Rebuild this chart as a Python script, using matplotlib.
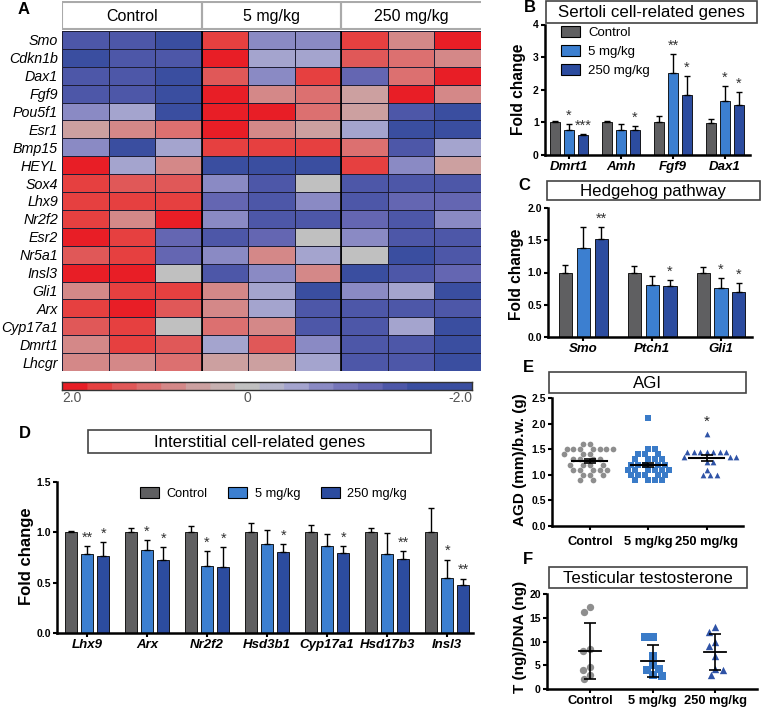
import numpy as np
import matplotlib
matplotlib.use("Agg")
import matplotlib.pyplot as plt
from matplotlib.colors import ListedColormap, BoundaryNorm
from matplotlib.patches import Rectangle, Patch

W, H = 761, 710
plt.rcParams["font.family"] = "Liberation Sans"

# ---------------- data ----------------
doses = ["Control", "5 mg/kg", "250 mg/kg"]

# A: heatmap (log fold change, 3 replicates per group)
heat_genes = ["Smo", "Cdkn1b", "Dax1", "Fgf9", "Pou5f1", "Esr1", "Bmp15", "HEYL", "Sox4",
              "Lhx9", "Nr2f2", "Esr2", "Nr5a1", "Insl3", "Gli1", "Arx", "Cyp17a1", "Dmrt1", "Lhcgr"]
heat_control = [[-1.6, -1.6, -1.8], [-1.9, -1.6, -1.6], [-1.6, -1.6, -1.8], [-1.6, -1.7, -1.8],
                [-0.9, -0.5, -1.8], [0.45, 0.9, 1.1], [-0.9, -1.9, -0.5], [1.9, -0.5, 0.9],
                [1.7, 1.3, 1.4], [1.7, 1.7, 1.7], [1.7, 0.9, 1.9], [1.9, 1.7, -1.3],
                [1.3, 1.7, -1.3], [1.9, 1.9, 0.0], [0.9, 1.7, 1.7], [1.7, 1.9, 1.3],
                [1.4, 1.7, 0.0], [0.9, 1.7, 1.4], [0.9, 0.9, 1.1]]
heat_5mg = [[1.7, -0.9, -0.9], [1.9, -0.5, -0.5], [1.3, -0.9, 1.5], [1.9, 0.9, 1.1],
            [1.9, 1.9, 1.1], [1.9, 0.9, 0.45], [1.7, 1.7, 1.7], [-1.8, -1.8, -1.8],
            [-0.9, -1.6, 0.0], [-1.3, -1.7, -0.9], [-0.9, -1.6, -1.7], [-1.6, -1.3, 0.0],
            [-0.9, 0.9, -0.5], [-1.6, -0.9, 0.9], [0.9, -0.5, -1.8], [0.9, -0.5, -1.6],
            [1.1, 0.9, -1.6], [-0.5, 1.4, -0.9], [0.5, 0.5, -0.5]]
heat_250mg = [[1.7, 0.9, 1.9], [1.3, 1.0, 0.9], [-1.3, 1.1, 1.9], [0.5, 1.8, 0.9],
              [0.5, -1.6, -1.8], [-0.5, -1.8, -1.8], [1.1, -1.6, -0.5], [1.7, -0.9, 0.5],
              [-1.6, -1.7, -1.7], [-1.6, -1.3, -1.3], [-1.3, -1.6, -0.9], [-0.9, -1.6, -1.6],
              [0.0, -1.9, -1.6], [-1.9, -1.6, -1.3], [-0.9, -0.5, -1.9], [-1.6, -1.6, -1.7],
              [-1.6, -0.5, -1.9], [-1.7, -1.7, -1.9], [-1.7, -1.7, -1.9]]

# B: Sertoli cell-related genes
b_genes = ["Dmrt1", "Amh", "Fgf9", "Dax1"]
b_ctrl = [1.0, 1.0, 1.0, 0.98]
b_ctrl_err = [0.05, 0.05, 0.2, 0.12]
b_5mg = [0.77, 0.77, 2.5, 1.67]
b_5mg_err = [0.18, 0.18, 0.6, 0.43]
b_250mg = [0.6, 0.77, 1.83, 1.53]
b_250mg_err = [0.05, 0.12, 0.6, 0.4]
b_5mg_stars = ["*", "", "**", "*"]
b_250mg_stars = ["***", "*", "*", "*"]

# C: Hedgehog pathway
c_genes = ["Smo", "Ptch1", "Gli1"]
c_ctrl = [1.0, 1.0, 1.0]
c_ctrl_err = [0.12, 0.1, 0.09]
c_5mg = [1.38, 0.8, 0.76]
c_5mg_err = [0.33, 0.15, 0.15]
c_250mg = [1.52, 0.79, 0.69]
c_250mg_err = [0.18, 0.09, 0.15]
c_5mg_stars = ["", "", "*"]
c_250mg_stars = ["**", "*", "*"]

# D: Interstitial cell-related genes
d_genes = ["Lhx9", "Arx", "Nr2f2", "Hsd3b1", "Cyp17a1", "Hsd17b3", "Insl3"]
d_ctrl = [1.0, 1.0, 1.0, 1.0, 1.0, 1.0, 1.0]
d_ctrl_err = [0.01, 0.04, 0.06, 0.09, 0.07, 0.04, 0.24]
d_5mg = [0.78, 0.82, 0.67, 0.88, 0.86, 0.78, 0.55]
d_5mg_err = [0.08, 0.1, 0.14, 0.14, 0.12, 0.21, 0.18]
d_250mg = [0.76, 0.73, 0.66, 0.8, 0.79, 0.74, 0.48]
d_250mg_err = [0.14, 0.12, 0.19, 0.08, 0.07, 0.07, 0.06]
d_5mg_stars = ["**", "*", "*", "", "", "", "*"]
d_250mg_stars = ["*", "*", "*", "*", "*", "**", "**"]

# E: AGI (AGD/body weight)
e_ctrl = [1.6, 1.6, 1.5, 1.5, 1.5, 1.5, 1.5, 1.5, 1.5, 1.4, 1.4, 1.4, 1.3, 1.3, 1.3, 1.3,
          1.2, 1.2, 1.2, 1.2, 1.1, 1.1, 1.1, 1.1, 1.1, 1.0, 1.0, 1.0, 0.9, 0.9]
e_5mg = [2.1, 1.5, 1.5, 1.4, 1.4, 1.4, 1.3, 1.3, 1.3, 1.3, 1.2, 1.2, 1.2, 1.2, 1.2,
         1.1, 1.1, 1.1, 1.1, 1.1, 1.1, 1.0, 1.0, 1.0, 1.0, 1.0, 0.9, 0.9, 0.9, 0.9]
e_250mg = [1.8, 1.45, 1.45, 1.45, 1.45, 1.45, 1.45, 1.45, 1.35, 1.35, 1.35, 1.25, 1.25,
           1.1, 1.0, 1.0, 1.0]

# F: Testicular testosterone
f_ctrl = [17.2, 16.2, 8.5, 8.0, 4.6, 4.0, 3.0, 2.2]
f_5mg = [11.0, 11.0, 7.0, 5.0, 4.2, 4.0, 3.0, 2.7]
f_250mg = [13.0, 12.0, 10.0, 9.0, 7.0, 4.3, 4.0, 3.0]

bar_colors = ["#5f5f61", "#3c7fd0", "#2c4c9f"]
dot_colors = ["#8e8e8e", "#3a7bc8", "#2f53a6"]
dot_markers = ["o", "s", "^"]

heat_colors = ["#3a4ea0", "#4d57a8", "#6466b2", "#7676ba", "#8a8ac4", "#a4a4ce", "#b4b4ca",
               "#c0c0c0", "#c6b0b0", "#cca0a0", "#d48888", "#dc7070", "#e05858", "#e64040",
               "#e81e26"]

fig = plt.figure(figsize=(W / 100, H / 100), dpi=100)


def px_axes(x0, y0, x1, y1):
    return fig.add_axes([x0 / W, 1 - y1 / H, (x1 - x0) / W, (y1 - y0) / H])


def fig_text(x, y, s, **kw):
    fig.text(x / W, 1 - y / H, s, **kw)


def title_box(x0, y0, x1, y1, s, size=12.2):
    fig.add_artist(Rectangle((x0 / W, 1 - y1 / H), (x1 - x0) / W, (y1 - y0) / H,
                             transform=fig.transFigure, fill=False,
                             edgecolor="#444444", lw=1.2))
    fig_text((x0 + x1) / 2, (y0 + y1) / 2 + 1, s, ha="center", va="center", fontsize=size)


def style_axes(ax):
    ax.spines[["top", "right"]].set_visible(False)
    for s in ["left", "bottom"]:
        ax.spines[s].set_linewidth(1.8)
    ax.tick_params(length=3, width=1.5, pad=1.5)


def bar_panel(ax, genes, means, errs, stars, yticks, ylabels, xlim, offset=0.27, bw=0.2):
    x = np.arange(len(genes))
    for k in range(3):
        pos = x + (k - 1) * offset
        ax.bar(pos, means[k], width=bw, color=bar_colors[k], edgecolor="black", lw=0.6, zorder=2)
        ax.errorbar(pos, means[k], yerr=[np.zeros(len(x)), errs[k]], fmt="none",
                    ecolor="black", elinewidth=1, capsize=2.5, capthick=1, zorder=3)
        for p, m, e, s in zip(pos, means[k], errs[k], stars[k]):
            if s:
                ax.annotate(s, (p, m + e), xytext=(0, 1), textcoords="offset points",
                            ha="center", va="bottom", fontsize=10.5, color="#333333")
    style_axes(ax)
    ax.set_xlim(*xlim)
    ax.set_ylim(yticks[0], yticks[-1])
    ax.set_yticks(yticks, labels=ylabels, fontweight="bold", fontsize=7.5)
    ax.set_xticks(x, labels=genes, fontstyle="italic", fontweight="bold", fontsize=9.5)


def swarm(values, sx, sy, diam):
    # beeswarm offsets (x data units) so markers do not overlap in pixel space
    values = np.asarray(values, float)
    order = np.argsort(values)[::-1]
    placed = []
    offs = np.zeros(len(values))
    for n, i in enumerate(order):
        yv = values[i] * sy
        sign = -1 if n % 2 else 1
        cands = [0.0]
        for step in np.arange(0.5, 80, 0.5):
            cands += [sign * step, -sign * step]
        for c in cands:
            if all((c - px) ** 2 + (yv - py) ** 2 >= diam ** 2 for px, py in placed):
                break
        placed.append((c, yv))
        offs[i] = c / sx
    return offs


# ---------------- A: heatmap ----------------
heat = np.hstack([np.array(heat_control), np.array(heat_5mg), np.array(heat_250mg)])
cmap = ListedColormap(heat_colors)
norm = BoundaryNorm(np.linspace(-2, 2, len(heat_colors) + 1), cmap.N, clip=True)

axh = px_axes(62, 31, 481, 371)
axh.pcolormesh(heat, cmap=cmap, norm=norm, edgecolors="#1e1e36", linewidth=0.6)
axh.set_xlim(0, 9)
axh.set_ylim(len(heat_genes), 0)
axh.axvline(3, color="black", lw=1.2)
axh.axvline(6, color="black", lw=1.2)
axh.set_xticks([])
axh.set_yticks(np.arange(len(heat_genes)) + 0.5, labels=heat_genes, fontstyle="italic", fontsize=10.3)
axh.tick_params(axis="y", length=0, pad=3)
for s in axh.spines.values():
    s.set_visible(False)

# header boxes
axt = px_axes(62, 1, 481, 30)
axt.set_xlim(0, 9)
axt.set_ylim(0, 1)
axt.axis("off")
for k, name in enumerate(doses):
    wdt = 3 if k < 2 else 3.6
    axt.add_patch(Rectangle((3 * k, 0.02), wdt, 0.96, fill=False, edgecolor="#aaaaaa",
                            lw=1.5, clip_on=True))
    axt.text(3 * k + 1.5, 0.47, name, ha="center", va="center", fontsize=11.5)

# colorbar
axc = px_axes(62, 382, 472, 390)
grad = np.linspace(2, -2.43, 500)
axc.imshow(grad[np.newaxis, :], aspect="auto", cmap=cmap, norm=norm,
           extent=[2, -2.43, 0, 1])
axc.set_xlim(2, -2.43)
axc.set_xticks([])
axc.set_yticks([])
for s in axc.spines.values():
    s.set_linewidth(1.0)
    s.set_edgecolor("#333333")
fig_text(62, 398, "2.0", ha="left", va="center", fontsize=10, color="#555555")
fig_text(247, 398, "0", ha="center", va="center", fontsize=10, color="#555555")
fig_text(472, 398, "-2.0", ha="right", va="center", fontsize=10, color="#555555")

# ---------------- B ----------------
axb = px_axes(545, 24.5, 750, 155)
bar_panel(axb, b_genes, [b_ctrl, b_5mg, b_250mg], [b_ctrl_err, b_5mg_err, b_250mg_err],
          [[""] * 4, b_5mg_stars, b_250mg_stars], [0, 1, 2, 3, 4],
          ["0", "1", "2", "3", "4"], (-0.46, 3.48))
handles = [Patch(facecolor=c, edgecolor="black", lw=0.8) for c in bar_colors]
axb.legend(handles, doses, loc="upper left", bbox_to_anchor=(0.05, 1.03), frameon=False,
           fontsize=9.5, handlelength=1.5, handleheight=0.9, labelspacing=0.45,
           handletextpad=0.6, borderaxespad=0)
title_box(546, 1, 757, 23, "Sertoli cell-related genes")
fig_text(519, 89, "Fold change", rotation=90, ha="center", va="center",
         fontsize=11.2, fontweight="bold")

# ---------------- C ----------------
axcc = px_axes(548, 208, 752, 337)
bar_panel(axcc, c_genes, [c_ctrl, c_5mg, c_250mg], [c_ctrl_err, c_5mg_err, c_250mg_err],
          [[""] * 3, c_5mg_stars, c_250mg_stars], [0, 0.5, 1.0, 1.5, 2.0],
          ["0.0", "0.5", "1.0", "1.5", "2.0"], (-0.51, 2.45), offset=0.26, bw=0.19)
title_box(547, 181, 760, 200, "Hedgehog pathway")
fig_text(516, 274, "Fold change", rotation=90, ha="center", va="center",
         fontsize=11.2, fontweight="bold")

# ---------------- D ----------------
axd = px_axes(57, 482, 473, 633)
bar_panel(axd, d_genes, [d_ctrl, d_5mg, d_250mg], [d_ctrl_err, d_5mg_err, d_250mg_err],
          [[""] * 7, d_5mg_stars, d_250mg_stars], [0, 0.5, 1.0, 1.5],
          ["0.0", "0.5", "1.0", "1.5"], (-0.5, 6.43))
axd.legend(handles, doses, loc="upper center", bbox_to_anchor=(0.52, 1.0), ncol=3,
           frameon=False, fontsize=9.2, handlelength=1.5, handleheight=0.9,
           columnspacing=1.6, handletextpad=0.6, borderaxespad=0)
title_box(88, 430, 431, 453, "Interstitial cell-related genes")
fig_text(27, 556, "Fold change", rotation=90, ha="center", va="center",
         fontsize=12, fontweight="bold")

# ---------------- E ----------------
axe = px_axes(552, 398, 743, 526)
e_groups = [e_ctrl, e_5mg, e_250mg]
for k, vals in enumerate(e_groups):
    xo = swarm(vals, 58.5, 51.2, 6.2)
    axe.scatter(k + xo, vals, marker=dot_markers[k], s=17, color=dot_colors[k],
                linewidths=0, zorder=2)
    m = np.mean(vals)
    sem = np.std(vals, ddof=1) / np.sqrt(len(vals))
    axe.plot([k - 0.3, k + 0.3], [m, m], color="black", lw=1.5, zorder=3)
    axe.errorbar([k], [m], yerr=[sem], fmt="none", ecolor="black", elinewidth=1.2,
                 capsize=4, capthick=1.2, zorder=3)
axe.annotate("*", (2, max(e_250mg)), xytext=(0, 4), textcoords="offset points",
             ha="center", va="bottom", fontsize=11, color="#222222")
style_axes(axe)
axe.set_xlim(-0.65, 2.62)
axe.set_ylim(0, 2.5)
axe.set_yticks([0, 0.5, 1.0, 1.5, 2.0, 2.5], labels=["0.0", "0.5", "1.0", "1.5", "2.0", "2.5"],
               fontweight="bold", fontsize=7.5)
axe.set_xticks([0, 1, 2], labels=doses, fontweight="bold", fontsize=9.3)
axe.tick_params(axis="x", pad=4)
title_box(549, 372, 746, 393, "AGI")
fig_text(520, 460, "AGD (mm)/b.w. (g)", rotation=90, ha="center", va="center",
         fontsize=11, fontweight="bold")

# ---------------- F ----------------
axf = px_axes(547, 594, 757, 689)
f_groups = [f_ctrl, f_5mg, f_250mg]
for k, vals in enumerate(f_groups):
    xo = swarm(vals, 62.5, 4.75, 7.5)
    axf.scatter(k + xo, vals, marker=dot_markers[k], s=28, color=dot_colors[k],
                linewidths=0, zorder=2)
    m = np.mean(vals)
    sd = np.std(vals, ddof=1)
    axf.plot([k - 0.18, k + 0.18], [m, m], color="black", lw=1.3, zorder=3)
    axf.errorbar([k], [m], yerr=[sd], fmt="none", ecolor="black", elinewidth=1.2,
                 capsize=4, capthick=1.2, zorder=3)
style_axes(axf)
axf.set_xlim(-0.69, 2.67)
axf.set_ylim(0, 20)
axf.set_yticks([0, 5, 10, 15, 20], labels=["0", "5", "10", "15", "20"],
               fontweight="bold", fontsize=7.5)
axf.set_xticks([0, 1, 2], labels=doses, fontweight="bold", fontsize=9.3)
axf.tick_params(axis="x", pad=1.5)
title_box(549, 567, 747, 588, "Testicular testosterone")
fig_text(520, 637, "T (ng)/DNA (ng)", rotation=90, ha="center", va="center",
         fontsize=11, fontweight="bold")

# panel letters
for lbl, (lx, ly) in {"A": (24, 9), "B": (530, 8), "C": (524, 186), "D": (25, 434),
                      "E": (528, 367), "F": (528, 559)}.items():
    fig_text(lx, ly, lbl, ha="center", va="center", fontsize=12, fontweight="bold")

fig.savefig("out.png", dpi=100)
